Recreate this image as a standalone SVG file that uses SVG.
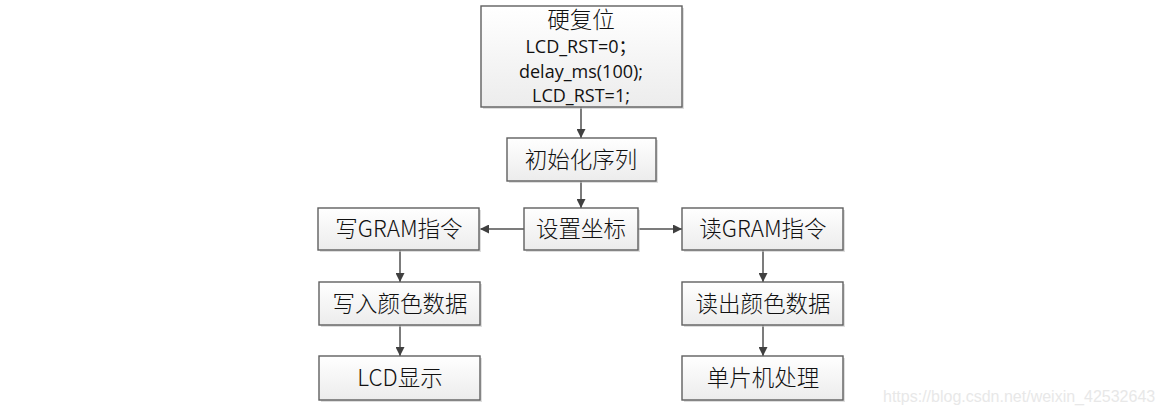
<svg xmlns="http://www.w3.org/2000/svg" width="1163" height="416" viewBox="0 0 1163 416">
<defs>
<linearGradient id="g" x1="0" y1="0" x2="0" y2="1">
<stop offset="0" stop-color="#ffffff"/>
<stop offset="1" stop-color="#ececec"/>
</linearGradient>
<marker id="ah" viewBox="0 0 10 10" refX="10" refY="5" markerWidth="9" markerHeight="9" markerUnits="userSpaceOnUse" orient="auto">
<path d="M0,0 L10,5 L0,10 Z" fill="#404040"/>
</marker>
<style>
.sh{fill:#c8c8c8;opacity:0.6}
.bx{fill:url(#g);stroke:#606060;stroke-width:1.4}
.t{font-family:"Noto Sans CJK SC","Noto Sans",sans-serif;font-size:22.5px;font-weight:300;fill:#111;text-anchor:middle}
.l{font-family:"Open Sans","Noto Sans","Noto Sans CJK SC",sans-serif;font-size:18px;fill:#111;text-anchor:middle}
.c{stroke:#505050;stroke-width:1.5;fill:none;marker-end:url(#ah)}
.wm{font-family:"Liberation Sans",Arial,sans-serif;font-size:16px;fill:#e8e8e8}
</style>
</defs>
<rect width="1163" height="416" fill="#ffffff"/>
<g id="connectors">
<line class="c" x1="581" y1="107" x2="581" y2="138"/>
<line class="c" x1="581" y1="181" x2="581" y2="208"/>
<line class="c" x1="524" y1="229" x2="480" y2="229"/>
<line class="c" x1="638" y1="229" x2="682" y2="229"/>
<line class="c" x1="400" y1="250" x2="400" y2="282"/>
<line class="c" x1="400" y1="325" x2="400" y2="356"/>
<line class="c" x1="763" y1="250" x2="763" y2="282"/>
<line class="c" x1="763" y1="325" x2="763" y2="356"/>
</g>
<g id="reset">
<rect class="sh" x="483" y="8" width="201" height="101"/>
<rect class="bx" x="481" y="6" width="201" height="101"/>
<text class="t" x="581" y="28">硬复位</text>
<text class="l" x="581" y="53">LCD_RST=0；</text>
<text class="l" x="581" y="78">delay_ms(100);</text>
<text class="l" x="581" y="102">LCD_RST=1;</text>
</g>
<g id="init">
<rect class="sh" x="509" y="140" width="149" height="43"/>
<rect class="bx" x="507" y="138" width="149" height="43"/>
<text class="t" x="581" y="168">初始化序列</text>
</g>
<g id="setxy">
<rect class="sh" x="526" y="210" width="114" height="42"/>
<rect class="bx" x="524" y="208" width="114" height="42"/>
<text class="t" x="581" y="237">设置坐标</text>
</g>
<g id="wgram">
<rect class="sh" x="320" y="210" width="161" height="42"/>
<rect class="bx" x="318" y="208" width="161" height="42"/>
<text class="t" x="399" y="237">写GRAM指令</text>
</g>
<g id="rgram">
<rect class="sh" x="684" y="210" width="161" height="42"/>
<rect class="bx" x="682" y="208" width="161" height="42"/>
<text class="t" x="763" y="237">读GRAM指令</text>
</g>
<g id="wdata">
<rect class="sh" x="321" y="284" width="161" height="43"/>
<rect class="bx" x="319" y="282" width="161" height="43"/>
<text class="t" x="400" y="312">写入颜色数据</text>
</g>
<g id="rdata">
<rect class="sh" x="684" y="284" width="161" height="43"/>
<rect class="bx" x="682" y="282" width="161" height="43"/>
<text class="t" x="763" y="312">读出颜色数据</text>
</g>
<g id="lcd">
<rect class="sh" x="321" y="358" width="161" height="44"/>
<rect class="bx" x="319" y="356" width="161" height="44"/>
<text class="t" x="400" y="386">LCD显示</text>
</g>
<g id="mcu">
<rect class="sh" x="684" y="358" width="161" height="44"/>
<rect class="bx" x="682" y="356" width="161" height="44"/>
<text class="t" x="763" y="386">单片机处理</text>
</g>
<text class="wm" x="883" y="402">https://blog.csdn.net/weixin_42532643</text>
</svg>
